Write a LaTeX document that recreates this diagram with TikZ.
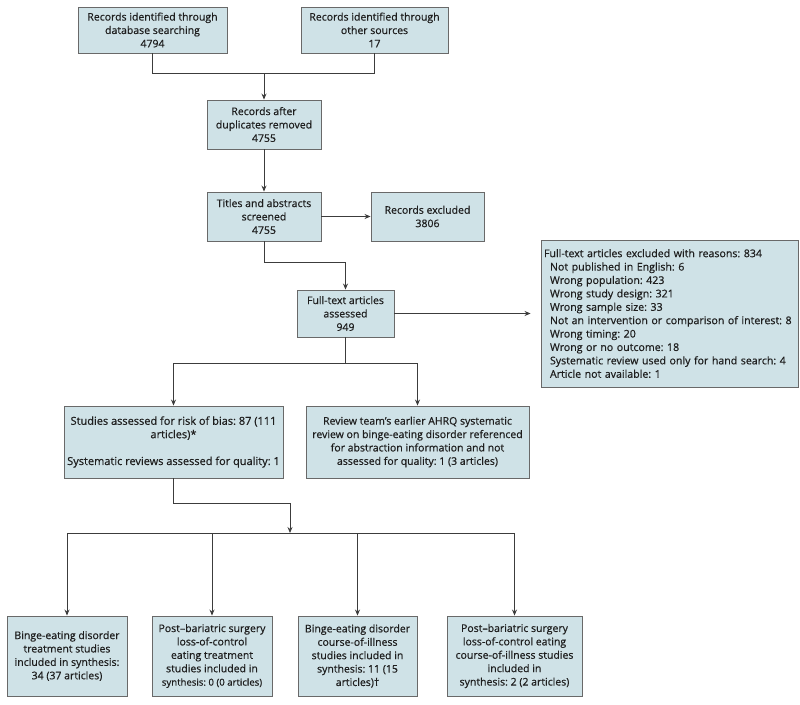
\documentclass[tikz,border=0pt]{standalone}
\usepackage{fontspec}
\setmainfont{Open Sans}[FakeBold=0.6]
\usetikzlibrary{arrows.meta}
\definecolor{boxfill}{RGB}{207,226,231}
\definecolor{boxline}{RGB}{105,105,105}
\definecolor{conn}{RGB}{60,60,60}
\definecolor{txt}{RGB}{30,30,30}
\begin{document}
\frenchspacing
\begin{tikzpicture}[x=1pt,y=-1pt,
  flowbox/.style={draw=boxline, fill=boxfill, line width=0.9pt, align=center, text=txt,
    font=\fontsize{10.5}{13.4}\selectfont, inner sep=1pt, minimum height=#1},
  flowbox/.default=46pt,
  conline/.style={draw=conn, line width=0.8pt},
  arr/.style={conline, -{Stealth[length=6pt,width=5pt]}}]
\useasboundingbox (0,0) rectangle (800,704);
% top
\node[flowbox=46pt, minimum width=149pt] (A) at (152.5,30) {Records identified through\\database searching\\4794};
\node[flowbox=46pt, minimum width=147pt] (B) at (374.5,30) {Records identified through\\other sources\\17};
\node[flowbox=49pt, minimum width=114pt] (C) at (264,124.5) {Records after\\duplicates removed\\4755};
\node[flowbox=49pt, minimum width=114pt] (D) at (264,216.5) {Titles and abstracts\\screened\\4755};
\node[flowbox=49pt, minimum width=113pt] (E) at (427.5,216.5) {Records excluded\\3806};
\node[flowbox=47pt, minimum width=97pt] (F) at (345.5,313.5) {Full-text articles\\assessed\\949};
\node[flowbox=147pt, minimum width=257pt, text width=251pt, align=left,
      font=\fontsize{10.6}{13.4}\selectfont] (G) at (669.5,313.5)
  {Full-text articles excluded with reasons: 834\\
   \hspace*{6pt}Not published in English: 6\\
   \hspace*{6pt}Wrong population: 423\\
   \hspace*{6pt}Wrong study design: 321\\
   \hspace*{6pt}Wrong sample size: 33\\
   \hspace*{6pt}Not an intervention or comparison of interest: 8\\
   \hspace*{6pt}Wrong timing: 20\\
   \hspace*{6pt}Wrong or no outcome: 18\\
   \hspace*{6pt}Systematic review used only for hand search: 4\\
   \hspace*{6pt}Article not available: 1};
\node[flowbox=72pt, minimum width=219pt, font=\fontsize{11}{13.4}\selectfont] (H) at (173.5,442)
  {Studies assessed for risk of bias: 87 (111\\articles)*\\[13.4pt]Systematic reviews assessed for quality: 1};
\node[flowbox=72pt, minimum width=223pt] (I) at (417.5,442)
  {Review team's earlier AHRQ systematic\\review on binge-eating disorder referenced\\for abstraction information and not\\assessed for quality: 1 (3 articles)};
\node[flowbox=80pt, minimum width=120pt] (J) at (67,656)
  {Binge-eating disorder\\treatment studies\\included in synthesis:\\34 (37 articles)};
\node[flowbox=80pt, minimum width=120pt] (K) at (212,656)
  {Post--bariatric surgery\\loss-of-control\\eating treatment\\studies included in\\{\fontsize{9.6}{13.4}\selectfont synthesis: 0 (0 articles)}};
\node[flowbox=80pt, minimum width=119pt] (L) at (357.5,656)
  {Binge-eating disorder\\course-of-illness\\studies included in\\synthesis: 11 (15\\articles)†};
\node[flowbox=80pt, minimum width=135pt] (M) at (514.5,656)
  {Post--bariatric surgery\\loss-of-control eating\\course-of-illness studies\\included in\\synthesis: 2 (2 articles)};
% junctions
\coordinate (j1) at (264,73);
\coordinate (j2) at (345.5,262);
\coordinate (j3) at (345.5,363);
\coordinate (j4) at (290,503);
\coordinate (j5) at (290,533);
% connectors
\draw[conline] (A.south) |- (j1);
\draw[conline] (B.south) |- (j1);
\draw[arr] (j1) -- (C.north);
\draw[arr] (C) -- (D);
\draw[arr] (D) -- (E);
\draw[arr] (D.south) |- (j2) -- (F.north);
\draw[arr, shorten >=10pt] (F) -- (G);
\draw[conline] (F.south) -- (j3);
\draw[arr] (j3) -| (H.north);
\draw[arr] (j3) -| (I.north);
\draw[arr] (H.south) |- (j4) -- (j5);
\draw[arr] (j5) -| (J.north);
\draw[arr] (j5) -| (K.north);
\draw[arr] (j5) -| (L.north);
\draw[arr] (j5) -| (M.north);
\end{tikzpicture}
\end{document}
